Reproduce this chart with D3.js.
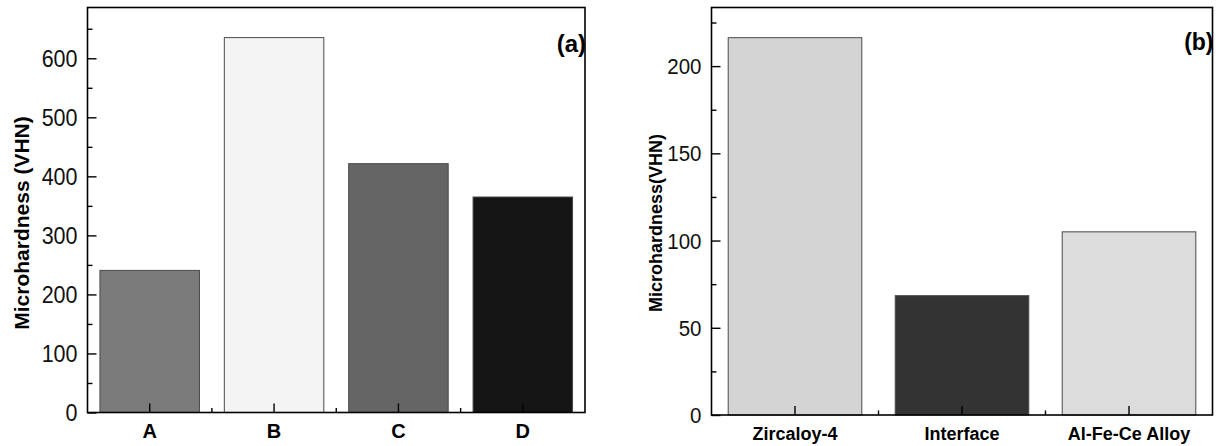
<!DOCTYPE html>
<html>
<head>
<meta charset="utf-8">
<script src="https://cdn.jsdelivr.net/npm/d3@7"></script>
<style>
  html, body { margin: 0; padding: 0; background: #fff; }
  svg { display: block; }
  svg text { font-family: "Liberation Sans", Arial, sans-serif; }
  .bar { stroke: #4a4a4a; stroke-width: 1; }
  .frame { fill: none; stroke: #000; stroke-width: 1.6; }
  .tick line { stroke: #000; stroke-width: 1.4; }
</style>
</head>
<body>
<div id="viz"></div>
<script>
// --- データ ---
const catsA = ["A", "B", "C", "D"];
const valsA = [240.7, 635, 421.5, 365];
const fillsA = ["#7b7b7b", "#f4f4f4", "#656565", "#151515"];
const ticksA = [0, 100, 200, 300, 400, 500, 600];
const minorA = [50, 150, 250, 350, 450, 550, 650];

const catsB = ["Zircaloy-4", "Interface", "Al-Fe-Ce Alloy"];
const valsB = [216.3, 68.4, 105];
const fillsB = ["#d4d4d4", "#333333", "#dcdcdc"];
const ticksB = [0, 50, 100, 150, 200];
const minorB = [25, 75, 125, 175, 225];

const svg = d3.select("#viz").append("svg")
  .attr("width", 1219)
  .attr("height", 446);

// 元画像は縦方向に少し伸びているので文字も縦に少し伸ばす
const STRETCH = 1.07;

// --- パネル描画 ---
function drawPanel(p) {
  const g = svg.append("g");

  const x = d3.scaleBand()
    .domain(p.cats)
    .range([p.left, p.right])
    .paddingInner(0.2)
    .paddingOuter(0.1);

  const y = d3.scaleLinear()
    .domain([0, p.yMax])
    .range([p.bottom, p.top]);

  // バー
  g.selectAll(".bar")
    .data(p.cats)
    .enter().append("rect")
    .attr("class", "bar")
    .attr("x", d => x(d))
    .attr("width", x.bandwidth())
    .attr("y", (d, i) => y(p.vals[i]))
    .attr("height", (d, i) => y(0) - y(p.vals[i]))
    .attr("fill", (d, i) => p.fills[i]);

  // 左軸 (目盛は内向き)
  const yAxis = g.append("g")
    .attr("transform", `translate(${p.left},0)`)
    .call(d3.axisLeft(y).tickValues(p.ticks).tickSize(-9).tickPadding(10));
  yAxis.select(".domain").remove();
  yAxis.selectAll(".tick text")
    .attr("transform", `scale(1,${STRETCH})`)
    .attr("y", 0)
    .attr("dy", "0.34em")
    .style("font-size", p.tickFont + "px")
    .style("fill", "#111");

  const yMinor = g.append("g")
    .attr("transform", `translate(${p.left},0)`)
    .call(d3.axisLeft(y).tickValues(p.minor).tickSize(-5).tickFormat(""));
  yMinor.select(".domain").remove();

  // 下軸
  const xAxis = g.append("g")
    .attr("transform", `translate(0,${p.bottom})`)
    .call(d3.axisBottom(x).tickSize(-9).tickPadding(p.xPad));
  xAxis.select(".domain").remove();
  xAxis.selectAll("text")
    .style("font-size", p.xFont + "px")
    .style("font-weight", "bold")
    .style("fill", "#000");

  // カテゴリ間の小目盛
  const step = x.step();
  g.selectAll(".xminor")
    .data(p.cats.slice(0, -1))
    .enter().append("line")
    .attr("stroke", "#000")
    .attr("stroke-width", 1.4)
    .attr("x1", d => x(d) + x.bandwidth() + (step - x.bandwidth()) / 2)
    .attr("x2", d => x(d) + x.bandwidth() + (step - x.bandwidth()) / 2)
    .attr("y1", p.bottom)
    .attr("y2", p.bottom - 4.5);

  // 枠
  g.append("rect")
    .attr("class", "frame")
    .attr("x", p.left)
    .attr("y", p.top)
    .attr("width", p.right - p.left)
    .attr("height", p.bottom - p.top);

  // 軸タイトル
  g.append("text")
    .attr("transform", `translate(${p.titleX},${p.titleY}) rotate(-90)`)
    .attr("text-anchor", "middle")
    .style("font-size", p.titleFont + "px")
    .style("font-weight", "bold")
    .text(p.title);

  // パネルラベル
  g.append("text")
    .attr("x", p.right + 1)
    .attr("y", p.labelY)
    .attr("text-anchor", "end")
    .style("font-size", p.labelFont + "px")
    .style("font-weight", "bold")
    .text(p.label);
}

drawPanel({
  cats: catsA, vals: valsA, fills: fillsA, ticks: ticksA, minor: minorA,
  yMax: 686, left: 87.5, right: 585, top: 7.5, bottom: 412.5,
  tickFont: 21.5, xFont: 20, xPad: 11.5,
  title: "Microhardness (VHN)", titleX: 29, titleY: 223, titleFont: 21,
  label: "(a)", labelY: 51.5, labelFont: 24
});

drawPanel({
  cats: catsB, vals: valsB, fills: fillsB, ticks: ticksB, minor: minorB,
  yMax: 233.6, left: 711.5, right: 1212.5, top: 7.5, bottom: 415,
  tickFont: 20.5, xFont: 18, xPad: 12.2,
  title: "Microhardness(VHN)", titleX: 662, titleY: 223, titleFont: 18,
  label: "(b)", labelY: 49.5, labelFont: 23
});
</script>
</body>
</html>
